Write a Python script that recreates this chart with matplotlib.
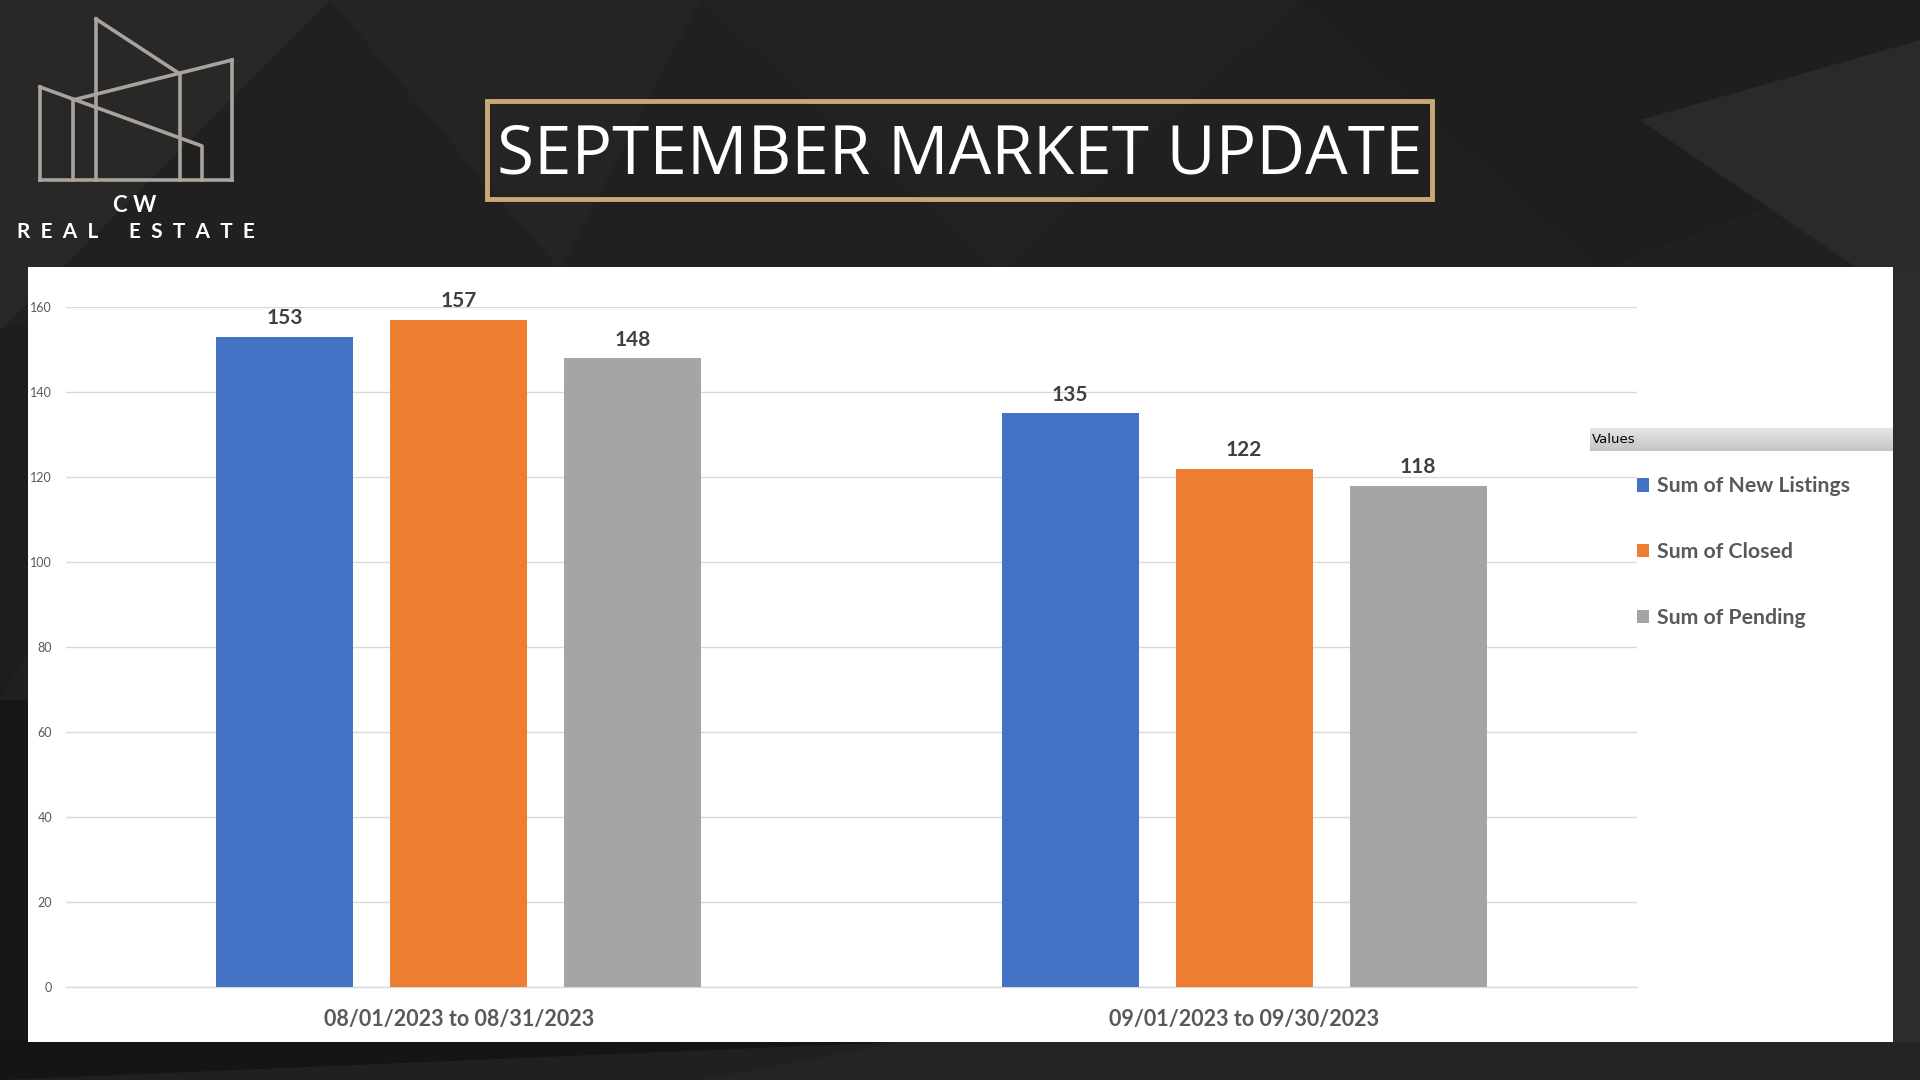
import matplotlib
matplotlib.use("Agg")
import matplotlib.pyplot as plt
import numpy as np
from matplotlib.patches import Rectangle, Polygon

# ---------------- data ----------------
categories = ["08/01/2023 to 08/31/2023", "09/01/2023 to 09/30/2023"]
series_names = ["Sum of New Listings", "Sum of Closed", "Sum of Pending"]
new_listings = [153, 135]
closed = [157, 122]
pending = [148, 118]
y_ticks = [0, 20, 40, 60, 80, 100, 120, 140, 160]
title_text = "SEPTEMBER MARKET UPDATE"
logo_top = "C W"
logo_bottom = "R  E  A  L      E  S  T  A  T  E"
legend_title = "Values"

colors = ["#4472C4", "#ED7D31", "#A5A5A5"]

W, H = 1920, 1080
fig = plt.figure(figsize=(W / 100, H / 100), dpi=100)
fig.patch.set_facecolor("#202020")

# background overlay axes in pixel coords
bg = fig.add_axes([0, 0, 1, 1], zorder=0)
bg.set_xlim(0, W)
bg.set_ylim(H, 0)
bg.axis("off")

# subtle low-poly background shapes
polys = [
    ([(0, 0), (330, 0), (0, 330)], "#282828"),
    ([(330, 0), (700, 0), (560, 270)], "#242424"),
    ([(700, 0), (1300, 0), (1000, 270)], "#222222"),
    ([(1300, 0), (1920, 0), (1920, 150), (1600, 270)], "#1e1e1e"),
    ([(1640, 120), (1920, 40), (1920, 270), (1860, 270)], "#2a2a2a"),
    ([(0, 330), (250, 270), (0, 700)], "#1d1d1d"),
    ([(0, 1042), (900, 1042), (0, 1080)], "#151515"),
    ([(900, 1042), (1920, 1042), (1920, 1080), (700, 1080)], "#242424"),
    ([(1893, 270), (1920, 270), (1920, 1042), (1893, 1042)], "#2c2c2c"),
    ([(0, 700), (28, 700), (28, 1042), (0, 1042)], "#161616"),
]
for pts, c in polys:
    bg.add_patch(Polygon(pts, closed=True, facecolor=c, edgecolor="none", zorder=0))

# white chart panel
bg.add_patch(Rectangle((28, 267), 1893 - 28, 1042 - 267, facecolor="white", edgecolor="none", zorder=1))

# title box
bg.add_patch(Rectangle((487, 101), 1432 - 487, 199 - 101, facecolor="none",
                       edgecolor="#C9A977", linewidth=3.5, zorder=2))
bg.text((487 + 1432) / 2, 156, title_text, color="white", fontsize=48.5,
        family="Open Sans", ha="center", va="center", zorder=3)

# logo lines
logo_col = "#ABA39B"
logo_lines = [
    [(40, 87), (40, 180)],
    [(40, 87), (202, 146), (202, 180)],
    [(40, 180), (232, 180)],
    [(96, 19), (96, 180)],
    [(96, 19), (180, 74), (180, 180)],
    [(232, 60), (232, 180)],
    [(232, 60), (73, 100), (73, 180)],
]
for seg in logo_lines:
    xs, ys = zip(*seg)
    bg.plot(xs, ys, color=logo_col, linewidth=2.6, solid_capstyle="projecting", zorder=3)
bg.text(135, 205, logo_top, color="white", fontsize=16, fontweight="bold",
        family="Lato", ha="center", va="center", zorder=3)
bg.text(136, 232, logo_bottom, color="white", fontsize=15, fontweight="bold",
        family="Lato", ha="center", va="center", zorder=3)

# legend header gradient
hdr = fig.add_axes([1590 / W, 1 - 451 / H, (1893 - 1590) / W, (451 - 428) / H], zorder=3)
grad = np.linspace(0, 1, 50).reshape(-1, 1)
hdr.imshow(grad, aspect="auto", cmap=matplotlib.colors.LinearSegmentedColormap.from_list(
    "g", ["#E6E6E6", "#C4C4C4"]), extent=[0, 1, 1, 0])
hdr.axis("off")
hdr.text(0.005, 0.5, legend_title, transform=hdr.transAxes, fontsize=9.5,
         family="DejaVu Sans", color="black", va="center", ha="left")

# ---------------- main chart ----------------
ax = fig.add_axes([66 / W, 1 - 987 / H, (1637 - 66) / W, (987 - 307) / H], zorder=2)
ax.set_facecolor("none")
x = np.arange(len(categories))
step = 0.2215
bw = 0.174
series = [new_listings, closed, pending]
bars = []
for i, (vals, name, c) in enumerate(zip(series, series_names, colors)):
    b = ax.bar(x + (i - 1) * step, vals, width=bw, color=c, label=name, zorder=3)
    bars.append(b)
    for rect, v in zip(b, vals):
        ax.annotate(str(v), (rect.get_x() + rect.get_width() / 2, v),
                    xytext=(0, 6), textcoords="offset points", ha="center", va="bottom",
                    fontsize=15, fontweight="bold", family="Lato", color="#404040",
                    annotation_clip=False)

ax.set_xlim(-0.5, 1.5)
ax.set_ylim(0, 160)
ax.set_yticks(y_ticks)
ax.set_yticklabels([str(t) for t in y_ticks], fontsize=9, family="Lato", color="#595959")
ax.set_xticks(x)
ax.set_xticklabels(categories, fontsize=15.5, fontweight="bold", family="Lato", color="#595959")
ax.tick_params(axis="both", length=0)
ax.tick_params(axis="y", pad=10)
ax.tick_params(axis="x", pad=16)
ax.grid(axis="y", color="#D9D9D9", linewidth=1, zorder=0)
for s in ["top", "right", "left"]:
    ax.spines[s].set_visible(False)
ax.spines["bottom"].set_color("#D9D9D9")
ax.spines["bottom"].set_linewidth(1)

leg = fig.legend(handles=bars, labels=series_names, loc="upper left",
                 bbox_to_anchor=(1628 / W, 1 - 468 / H), frameon=False,
                 prop={"family": "Lato", "weight": "bold", "size": 15.3},
                 labelcolor="#595959", handlelength=0.6, handleheight=0.6,
                 handletextpad=0.35, labelspacing=2.15, borderaxespad=0)

fig.savefig("out.png", dpi=100, facecolor=fig.get_facecolor())
